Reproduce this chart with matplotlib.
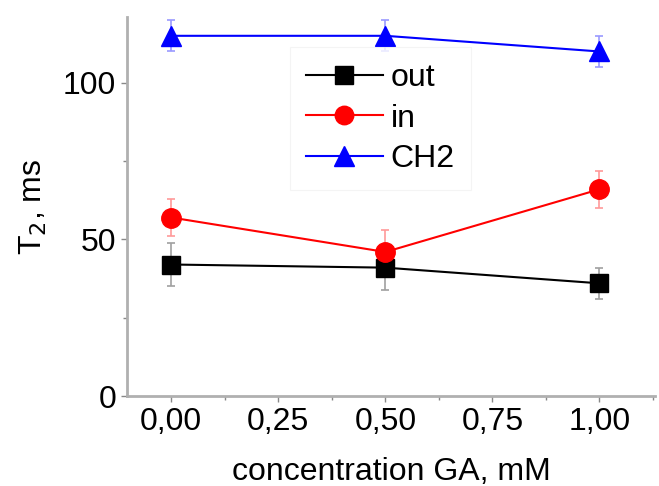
import matplotlib
matplotlib.use('Agg')
import matplotlib.pyplot as plt
from matplotlib.ticker import MultipleLocator

plt.rcParams['font.family'] = ['Liberation Sans', 'DejaVu Sans']

# GA concentration, mM
conc = [0.0, 0.5, 1.0]

# T2 relaxation times, ms, with error bars
t2_out = [42, 41, 36]
t2_out_err = [7, 7, 5]
t2_in = [57, 46, 66]
t2_in_err = [6, 7, 6]
t2_ch2 = [115, 115, 110]
t2_ch2_err = [5, 5, 5]

xtick_labels = ['0,00', '0,25', '0,50', '0,75', '1,00']

fs = 23

fig = plt.figure(figsize=(6.59, 4.86), dpi=100)
ax = fig.add_axes([0.193, 0.185, 0.801, 0.78])

series = [
    (t2_out, t2_out_err, 'black', 's', 13, '#a0a0a0', 'out'),
    (t2_in, t2_in_err, 'red', 'o', 14, '#ff9999', 'in'),
    (t2_ch2, t2_ch2_err, 'blue', '^', 15, '#9999ff', 'CH2'),
]
for y, err, col, mk, ms, ecol, lab in series:
    ax.errorbar(conc, y, yerr=err, fmt='none', ecolor=ecol, elinewidth=1.2,
                capsize=3, capthick=1.2, zorder=2)
    ax.plot(conc, y, color=col, marker=mk, markersize=ms, linewidth=1.5,
            label=lab, zorder=3)

ax.set_xlim(-0.103, 1.13)
ax.set_ylim(0, 121)
ax.set_xticks([0, 0.25, 0.5, 0.75, 1.0])
ax.set_xticklabels(xtick_labels)
ax.set_yticks([0, 50, 100])
ax.xaxis.set_minor_locator(MultipleLocator(0.125))
ax.yaxis.set_minor_locator(MultipleLocator(25))

for side in ['top', 'right']:
    ax.spines[side].set_visible(False)
for side in ['left', 'bottom']:
    ax.spines[side].set_color('#b0b0b0')
    ax.spines[side].set_linewidth(2)

ax.tick_params(which='major', direction='out', length=4, width=1, color='#888888',
               labelsize=fs, pad=4)
ax.tick_params(which='minor', direction='out', length=3, width=1, color='#888888')

ax.set_xlabel('concentration GA, mM', fontsize=fs, labelpad=14)
ax.set_ylabel('T$_2$, ms', fontsize=fs, labelpad=10)

# legend placed in figure pixels: frame left edge ~290 px, top ~47 px
leg = ax.legend(loc='upper left', bbox_to_anchor=(290 / 659, 1 - 47 / 486),
                bbox_transform=fig.transFigure, borderaxespad=0, fontsize=fs,
                handlelength=2.4, handletextpad=0.25, labelspacing=0.33,
                frameon=True, fancybox=False, borderpad=0.5, markerscale=0.95)
leg.get_frame().set_edgecolor('#f2f2f2')
leg.get_frame().set_linewidth(0.8)

fig.savefig('out.png', dpi=100)
